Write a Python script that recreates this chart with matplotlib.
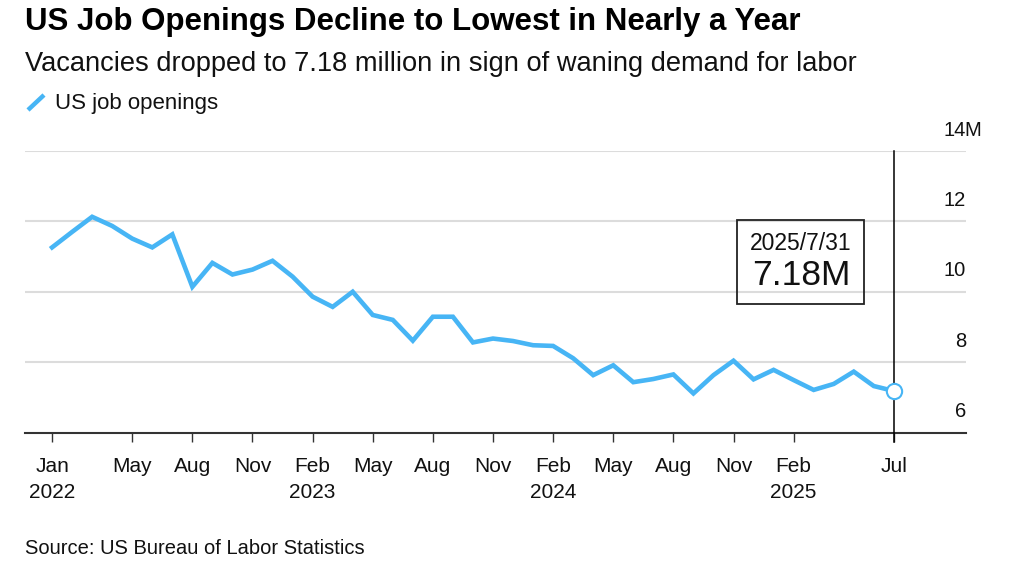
import matplotlib
matplotlib.use("Agg")
import matplotlib.pyplot as plt
from matplotlib.lines import Line2D
from matplotlib.transforms import offset_copy

plt.rcParams['font.family'] = ['Liberation Sans', 'DejaVu Sans']

# Monthly US job openings (millions), Jan 2022 .. Jul 2025
months = ["2022-01", "2022-02", "2022-03", "2022-04", "2022-05", "2022-06", "2022-07", "2022-08",
          "2022-09", "2022-10", "2022-11", "2022-12", "2023-01", "2023-02", "2023-03", "2023-04",
          "2023-05", "2023-06", "2023-07", "2023-08", "2023-09", "2023-10", "2023-11", "2023-12",
          "2024-01", "2024-02", "2024-03", "2024-04", "2024-05", "2024-06", "2024-07", "2024-08",
          "2024-09", "2024-10", "2024-11", "2024-12", "2025-01", "2025-02", "2025-03", "2025-04",
          "2025-05", "2025-06", "2025-07"]
openings = [11.26, 11.70, 12.13, 11.87, 11.51, 11.26, 11.63, 10.14,
            10.82, 10.49, 10.63, 10.88, 10.43, 9.86, 9.57, 10.00,
            9.34, 9.20, 8.61, 9.29, 9.29, 8.56, 8.67, 8.60,
            8.48, 8.46, 8.11, 7.63, 7.91, 7.43, 7.52, 7.65,
            7.11, 7.63, 8.04, 7.51, 7.78, 7.49, 7.21, 7.38,
            7.73, 7.32, 7.18]
tick_months = ["2022-01", "2022-05", "2022-08", "2022-11", "2023-02", "2023-05", "2023-08",
               "2023-11", "2024-02", "2024-05", "2024-08", "2024-11", "2025-02", "2025-07"]
tick_labels = ["Jan\n2022", "May", "Aug", "Nov", "Feb\n2023", "May", "Aug",
               "Nov", "Feb\n2024", "May", "Aug", "Nov", "Feb\n2025", "Jul"]
y_ticks = [6, 8, 10, 12, 14]
y_labels = ["6", "8", "10", "12", "14"]
y_unit = "M"
last_label_date = "2025/7/31"
last_label_value = "7.18M"

BLUE = "#47B5F5"
W, H = 1024, 578
fig = plt.figure(figsize=(W / 100, H / 100), dpi=100)
ax = fig.add_axes([25 / W, 1 - 432.5 / H, (966 - 25) / W, (432.5 - 151) / H])

x = list(range(len(months)))
ax.plot(x, openings, color=BLUE, lw=3.3, solid_joinstyle='miter', zorder=3)
ax.plot([x[-1]], [openings[-1]], marker='o', ms=11, mfc='white', mec=BLUE, mew=1.5, zorder=5, clip_on=False)
ax.axvline(x[-1], ymin=-0.032, ymax=1, color='black', lw=1.1, zorder=4, clip_on=False)

XR = 45.6
ax.set_xlim(-1.35, XR)
ax.set_ylim(6, 14)

for v in y_ticks[1:]:
    ax.axhline(v, color='#dcdcdc', lw=1.5, zorder=1)

for s in ['top', 'right', 'left']:
    ax.spines[s].set_visible(False)
ax.spines['bottom'].set_color('#333333')
ax.spines['bottom'].set_linewidth(1.5)

ax.set_yticks([])
for v, lab in zip(y_ticks, y_labels):
    tr = offset_copy(ax.transData, fig=fig, x=0, y=15, units='points')
    ax.text(XR, v, lab, transform=tr, ha='right', va='center', fontsize=14.5, color='#111111', clip_on=False)
    if v == y_ticks[-1]:
        trm = offset_copy(ax.transData, fig=fig, x=-1, y=15, units='points')
        ax.text(XR, v, y_unit, transform=trm, ha='left', va='center', fontsize=14.5, color='#111111', clip_on=False)

xt = [months.index(m) for m in tick_months]
ax.set_xticks(xt)
ax.set_xticklabels(tick_labels, fontsize=15, color='#111111', linespacing=1.45)
ax.tick_params(axis='x', direction='out', length=6.5, width=1.0, color='#333333', pad=11)

# annotation box
ax.text(37.36, 11.38, last_label_date, ha='center', va='center', fontsize=16.5, color='#111111')
ax.text(37.36, 10.46, last_label_value, ha='center', va='center', fontsize=25.5, color='#111111')
box = plt.Rectangle((34.17, 9.66), 6.36, 2.39, fill=False, ec='#222222', lw=1.3, zorder=6)
ax.add_patch(box)

# titles
fig.text(25 / W, 1 - 22 / H, "US Job Openings Decline to Lowest in Nearly a Year",
         fontsize=22.5, fontweight='bold', ha='left', va='center', color='#000000')
fig.text(25 / W, 1 - 64 / H, "Vacancies dropped to 7.18 million in sign of waning demand for labor",
         fontsize=19.65, ha='left', va='center', color='#111111')
fig.add_artist(Line2D([28 / W, 44 / W], [1 - 110 / H, 1 - 95 / H], color=BLUE, lw=3.2,
                      solid_capstyle='butt'))
fig.text(55 / W, 1 - 104 / H, "US job openings", fontsize=16, ha='left', va='center', color='#111111')
fig.text(25 / W, 1 - 549 / H, "Source: US Bureau of Labor Statistics",
         fontsize=14.5, ha='left', va='center', color='#111111')

fig.savefig("out.png", dpi=100, facecolor='white')
